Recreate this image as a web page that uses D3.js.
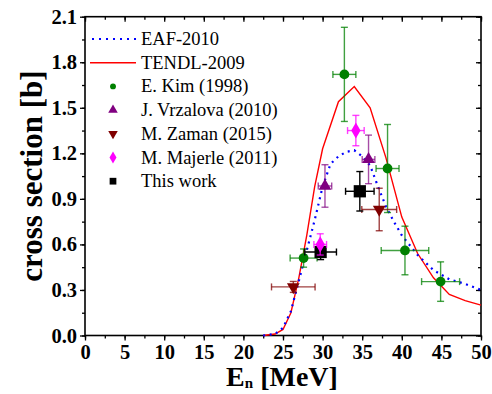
<!DOCTYPE html>
<html>
<head>
<meta charset="utf-8">
<script src="https://cdn.jsdelivr.net/npm/d3@7"></script>
<style>
  body { margin: 0; background: #fff; }
  svg { display: block; }
  text { font-family: "Liberation Serif", "Times New Roman", serif; }
</style>
</head>
<body>
<div id="chart"></div>
<script>
// evaluated curves
const eafE   = [22.5, 24, 25, 26, 27, 28, 29, 30, 31, 32, 33, 34, 35, 36, 37, 38, 39, 40, 42, 44, 46, 48, 50];
const eafXS  = [0, 0.01, 0.05, 0.16, 0.36, 0.56, 0.76, 0.98, 1.13, 1.18, 1.21, 1.22, 1.18, 1.12, 0.98, 0.85, 0.75, 0.66, 0.53, 0.43, 0.37, 0.34, 0.30];
const tendlE  = [22.5, 24, 25, 26, 27, 28, 29, 30, 32, 34, 36, 38, 40, 42, 44, 46, 48, 50];
const tendlXS = [0, 0.01, 0.04, 0.15, 0.38, 0.66, 0.98, 1.23, 1.54, 1.64, 1.50, 1.17, 0.78, 0.54, 0.38, 0.27, 0.23, 0.20];

// experimental sets: energy, xs, energy err, xs err
const kimE   = [27.6, 32.75, 38.2, 40.4, 44.9];
const kimXS  = [0.51, 1.72, 1.10, 0.56, 0.355];
const kimDE  = [1.7, 1.45, 1.45, 3.0, 2.4];
const kimDXS = [0.06, 0.31, 0.29, 0.16, 0.13];

const vrzE   = [30.3, 35.8];
const vrzXS  = [0.985, 1.16];
const vrzDE  = [0.85, 0.8];
const vrzDXS = [0.14, 0.16];

const zamE   = [26.3, 37.15];
const zamXS  = [0.32, 0.83];
const zamDE  = [2.75, 2.2];
const zamDXS = [0.036, 0.14];

const majE   = [29.7, 34.2];
const majXS  = [0.60, 1.35];
const majDE  = [0.8, 1.05];
const majDXS = [0.07, 0.10];

const thisE   = [29.75, 34.7];
const thisXS  = [0.55, 0.95];
const thisDE  = [2.0, 1.8];
const thisDXS = [0.05, 0.13];

const xTicks = [0, 5, 10, 15, 20, 25, 30, 35, 40, 45, 50];
const yTicks = [0.0, 0.3, 0.6, 0.9, 1.2, 1.5, 1.8, 2.1];

const width = 492, height = 394;
const svg = d3.select('#chart').append('svg')
    .attr('width', width)
    .attr('height', height);

const x = d3.scaleLinear().domain([0, 50]).range([85, 481]);
const y = d3.scaleLinear().domain([0, 2.1]).range([335.5, 16.7]);

// minor ticks
const xMinor = d3.range(0, 50.01, 2.5);
const yMinor = d3.range(0, 2.101, 0.15);

// left axis, outward ticks
svg.append('g')
    .attr('transform', `translate(${x(0)},0)`)
    .call(d3.axisLeft(y).tickValues(yMinor).tickSize(3).tickFormat(''))
    .call(g => g.select('.domain').remove())
    .selectAll('line').attr('stroke-width', 1.3);
svg.append('g')
    .attr('transform', `translate(${x(0)},0)`)
    .call(d3.axisLeft(y).tickValues(yTicks).tickSize(5).tickPadding(3).tickFormat(d3.format('.1f')))
    .call(g => g.select('.domain').remove())
    .call(g => g.selectAll('line').attr('stroke-width', 1.3))
    .call(g => g.selectAll('text')
        .style('font-family', '"Liberation Serif", serif')
        .style('font-size', '20.5px').style('font-weight', 'bold').attr('fill', '#000'));

// bottom axis, outward ticks
svg.append('g')
    .attr('transform', `translate(0,${y(0)})`)
    .call(d3.axisBottom(x).tickValues(xMinor).tickSize(3).tickFormat(''))
    .call(g => g.select('.domain').remove())
    .selectAll('line').attr('stroke-width', 1.3);
svg.append('g')
    .attr('transform', `translate(0,${y(0)})`)
    .call(d3.axisBottom(x).tickValues(xTicks).tickSize(5).tickPadding(4).tickFormat(d3.format('d')))
    .call(g => g.select('.domain').remove())
    .call(g => g.selectAll('line').attr('stroke-width', 1.3))
    .call(g => g.selectAll('text')
        .style('font-family', '"Liberation Serif", serif')
        .style('font-size', '20.5px').style('font-weight', 'bold').attr('fill', '#000'));

// top axis, inward ticks
svg.append('g')
    .attr('transform', `translate(0,${y(2.1)})`)
    .call(d3.axisBottom(x).tickValues(xMinor).tickSize(3).tickFormat(''))
    .call(g => g.select('.domain').remove())
    .selectAll('line').attr('stroke-width', 1.3);
svg.append('g')
    .attr('transform', `translate(0,${y(2.1)})`)
    .call(d3.axisBottom(x).tickValues(xTicks).tickSize(5).tickFormat(''))
    .call(g => g.select('.domain').remove())
    .selectAll('line').attr('stroke-width', 1.3);

// right axis, inward ticks
svg.append('g')
    .attr('transform', `translate(${x(50)},0)`)
    .call(d3.axisLeft(y).tickValues(yMinor).tickSize(3).tickFormat(''))
    .call(g => g.select('.domain').remove())
    .selectAll('line').attr('stroke-width', 1.3);
svg.append('g')
    .attr('transform', `translate(${x(50)},0)`)
    .call(d3.axisLeft(y).tickValues(yTicks).tickSize(5).tickFormat(''))
    .call(g => g.select('.domain').remove())
    .selectAll('line').attr('stroke-width', 1.3);

// frame
svg.append('rect')
    .attr('x', x(0)).attr('y', y(2.1))
    .attr('width', x(50) - x(0)).attr('height', y(0) - y(2.1))
    .attr('fill', 'none').attr('stroke', '#000').attr('stroke-width', 1.6);

// curves
const line = d3.line().x(d => x(d[0])).y(d => y(d[1]));
svg.append('path')
    .datum(tendlE.map((e, i) => [e, tendlXS[i]]))
    .attr('d', line)
    .attr('fill', 'none').attr('stroke', '#ff0000').attr('stroke-width', 1.4);
svg.append('path')
    .datum(eafE.map((e, i) => [e, eafXS[i]]))
    .attr('d', line)
    .attr('fill', 'none').attr('stroke', '#0000ff').attr('stroke-width', 2.2)
    .attr('stroke-dasharray', '2,4.5');

// markers
const sym = {
  circle: d3.symbol(d3.symbolCircle, 75),
  tri: d3.symbol(d3.symbolTriangle, 70),
  diamond: d3.symbol(d3.symbolDiamond, 75),
  square: d3.symbol(d3.symbolSquare, 150)
};

let drawSet = (E, XS, DE, DXS, color, barColor, shape, rot) => {
  let pts = E.map((e, i) => ({ e: e, v: XS[i], de: DE[i], dv: DXS[i] }));
  let g = svg.append('g');
  let cap = 3.5;
  pts.forEach(d => {
    let cx = x(d.e), cy = y(d.v);
    let bars = g.append('g').attr('stroke', barColor).attr('stroke-width', 1.4);
    bars.append('line').attr('x1', x(d.e - d.de)).attr('x2', x(d.e + d.de)).attr('y1', cy).attr('y2', cy);
    bars.append('line').attr('x1', cx).attr('x2', cx).attr('y1', y(d.v + d.dv)).attr('y2', y(d.v - d.dv));
    bars.append('line').attr('x1', x(d.e - d.de)).attr('x2', x(d.e - d.de)).attr('y1', cy - cap).attr('y2', cy + cap);
    bars.append('line').attr('x1', x(d.e + d.de)).attr('x2', x(d.e + d.de)).attr('y1', cy - cap).attr('y2', cy + cap);
    bars.append('line').attr('x1', cx - cap).attr('x2', cx + cap).attr('y1', y(d.v + d.dv)).attr('y2', y(d.v + d.dv));
    bars.append('line').attr('x1', cx - cap).attr('x2', cx + cap).attr('y1', y(d.v - d.dv)).attr('y2', y(d.v - d.dv));
    g.append('path')
      .attr('d', shape())
      .attr('transform', `translate(${cx},${cy}) rotate(${rot})`)
      .attr('fill', color);
  });
};

drawSet(kimE, kimXS, kimDE, kimDXS, '#008000', 'rgba(0,128,0,0.75)', sym.circle, 0);
drawSet(zamE, zamXS, zamDE, zamDXS, '#800000', 'rgba(128,0,0,0.75)', sym.tri, 180);
drawSet(thisE, thisXS, thisDE, thisDXS, '#000000', '#000000', sym.square, 0);
drawSet(majE, majXS, majDE, majDXS, '#ff00ff', 'rgba(255,0,255,0.75)', sym.diamond, 0);
drawSet(vrzE, vrzXS, vrzDE, vrzDXS, '#800080', 'rgba(128,0,128,0.7)', sym.tri, 0);

// legend
const legendNames = ['EAF-2010', 'TENDL-2009', 'E. Kim (1998)', 'J. Vrzalova (2010)', 'M. Zaman (2015)', 'M. Majerle (2011)', 'This work'];
const legendY0 = 39, legendDY = 23.7, legendTx = 141, legendSx = 113;
const leg = svg.append('g');
legendNames.forEach((name, i) => {
  let ly = legendY0 + i * legendDY;
  if (i === 0) {
    leg.append('line').attr('x1', 92).attr('x2', 136).attr('y1', ly).attr('y2', ly)
      .attr('stroke', '#0000ff').attr('stroke-width', 2.2).attr('stroke-dasharray', '2,5');
  } else if (i === 1) {
    leg.append('line').attr('x1', 90).attr('x2', 136).attr('y1', ly).attr('y2', ly)
      .attr('stroke', '#ff0000').attr('stroke-width', 1.4);
  } else {
    let opts = [null, null,
      [sym.circle, '#008000', 0, 0.6],
      [sym.tri, '#800080', 0, 0.75],
      [sym.tri, '#800000', 180, 0.75],
      [sym.diamond, '#ff00ff', 0, 0.75],
      [sym.square, '#000000', 0, 0.55]][i];
    leg.append('path').attr('d', opts[0]())
      .attr('transform', `translate(${legendSx},${ly}) rotate(${opts[2]}) scale(${opts[3]})`)
      .attr('fill', opts[1]);
  }
  leg.append('text').attr('x', legendTx).attr('y', ly + 6)
    .style('font-size', '18.5px').attr('fill', '#000').text(name);
});

// axis titles
svg.append('text')
  .attr('transform', `translate(42,${(y(0) + y(2.1)) / 2}) rotate(-90)`)
  .attr('text-anchor', 'middle')
  .style('font-size', '31px').style('font-weight', 'bold')
  .text('cross section [b]');

const xt = svg.append('text')
  .attr('x', 282).attr('y', 386)
  .attr('text-anchor', 'middle')
  .style('font-size', '28px').style('font-weight', 'bold');
xt.append('tspan').text('E');
xt.append('tspan').attr('dy', 2).style('font-size', '15px').text('n');
xt.append('tspan').attr('dy', -2).text(' [MeV]');
</script>
</body>
</html>
